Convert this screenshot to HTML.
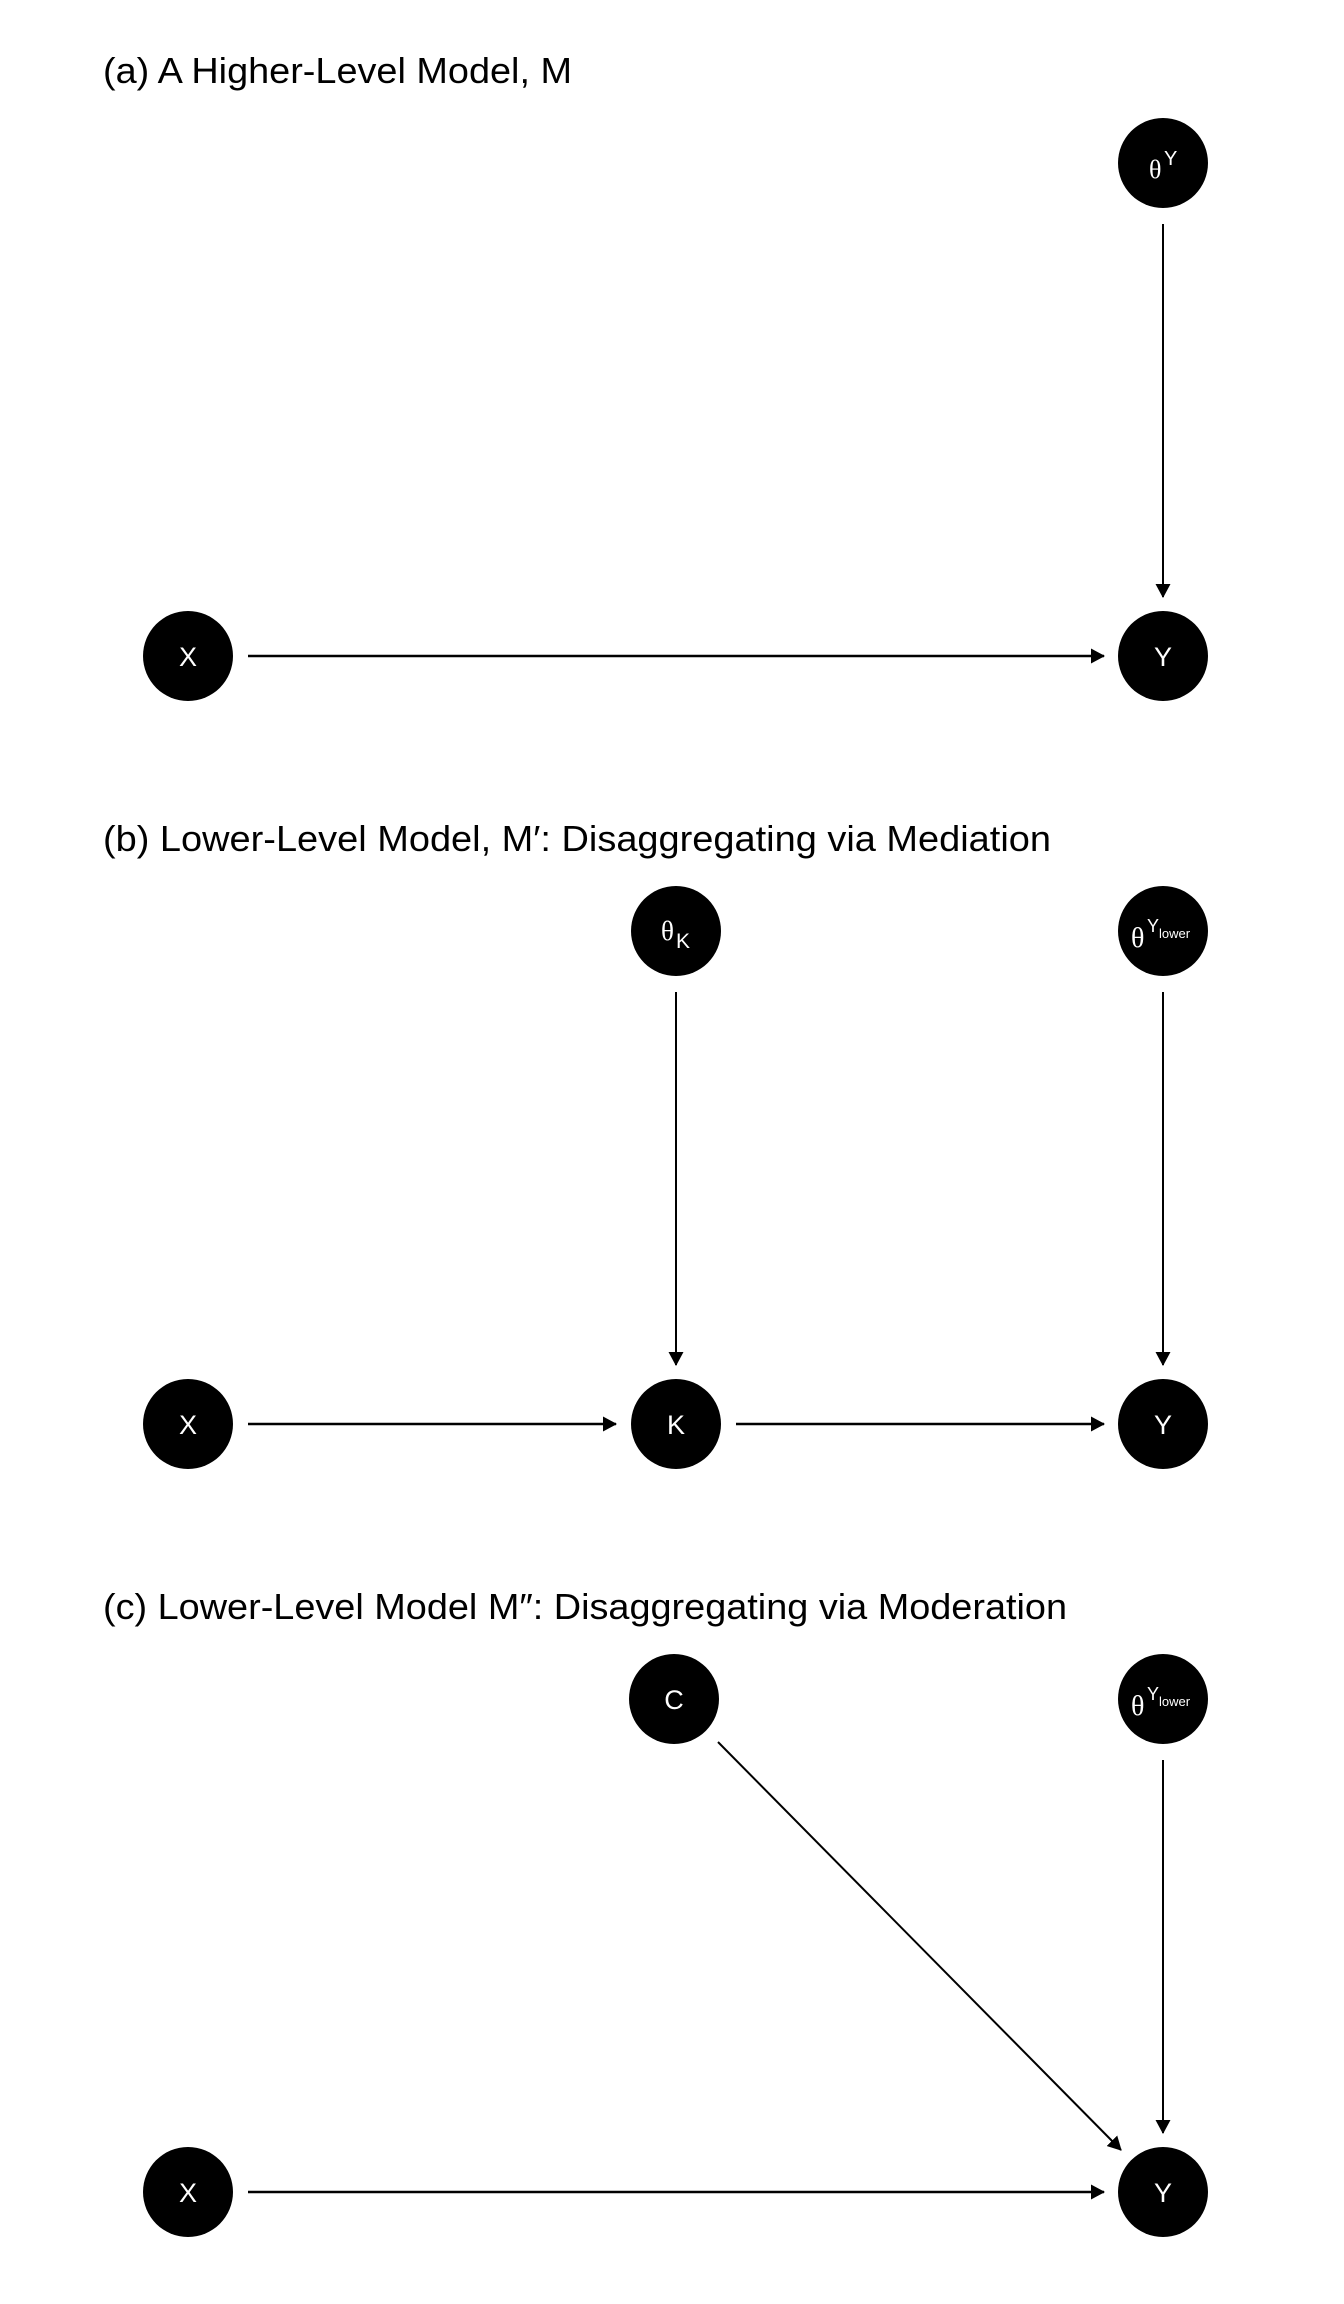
<!DOCTYPE html>
<html><head><meta charset="utf-8"><style>
html,body{margin:0;padding:0;background:#fff;}
svg{display:block;}
.t{font-family:"Liberation Sans",sans-serif;font-size:36px;fill:#000;}
.n{font-family:"Liberation Sans",sans-serif;fill:#fff;}
.th{font-family:"Liberation Serif","DejaVu Serif",serif;fill:#fff;}
</style></head><body>
<svg width="1344" height="2304" viewBox="0 0 1344 2304" xmlns="http://www.w3.org/2000/svg">
<defs>
<marker id="ah" markerWidth="14" markerHeight="15" refX="13" refY="7.5" orient="auto" markerUnits="userSpaceOnUse">
<path d="M0,0 L14,7.5 L0,15 Z" fill="#000"/>
</marker>
</defs>

<!-- Panel A -->
<g>
<text class="t" x="103" y="83" textLength="469" lengthAdjust="spacingAndGlyphs">(a) A Higher-Level Model, M</text>
<line x1="1163" y1="224" x2="1163" y2="597" stroke="#000" stroke-width="2" marker-end="url(#ah)"/>
<line x1="248" y1="656" x2="1104" y2="656" stroke="#000" stroke-width="2.6" marker-end="url(#ah)"/>
<circle cx="1163" cy="163" r="45" fill="#000"/>
<text class="th" x="1149" y="178" font-size="26">θ</text>
<text class="n" x="1164" y="165" font-size="20">Y</text>
<circle cx="188" cy="656" r="45" fill="#000"/>
<text class="n" x="188" y="666" font-size="27" text-anchor="middle">X</text>
<circle cx="1163" cy="656" r="45" fill="#000"/>
<text class="n" x="1163" y="666" font-size="27" text-anchor="middle">Y</text>
</g>

<!-- Panel B -->
<g transform="translate(0,768)">
<text class="t" x="103" y="83" textLength="948" lengthAdjust="spacingAndGlyphs">(b) Lower-Level Model, M′: Disaggregating via Mediation</text>
<line x1="676" y1="224" x2="676" y2="597" stroke="#000" stroke-width="2" marker-end="url(#ah)"/>
<line x1="1163" y1="224" x2="1163" y2="597" stroke="#000" stroke-width="2" marker-end="url(#ah)"/>
<line x1="248" y1="656" x2="616" y2="656" stroke="#000" stroke-width="2.6" marker-end="url(#ah)"/>
<line x1="736" y1="656" x2="1104" y2="656" stroke="#000" stroke-width="2.6" marker-end="url(#ah)"/>
<circle cx="676" cy="163" r="45" fill="#000"/>
<text class="th" x="661" y="172" font-size="27">θ</text>
<text class="n" x="676" y="180" font-size="21">K</text>
<circle cx="1163" cy="163" r="45" fill="#000"/>
<text class="th" x="1131" y="179" font-size="28">θ</text>
<text class="n" x="1147" y="164" font-size="18">Y</text>
<text class="n" x="1159" y="170" font-size="13">lower</text>
<circle cx="188" cy="656" r="45" fill="#000"/>
<text class="n" x="188" y="666" font-size="27" text-anchor="middle">X</text>
<circle cx="676" cy="656" r="45" fill="#000"/>
<text class="n" x="676" y="666" font-size="27" text-anchor="middle">K</text>
<circle cx="1163" cy="656" r="45" fill="#000"/>
<text class="n" x="1163" y="666" font-size="27" text-anchor="middle">Y</text>
</g>

<!-- Panel C -->
<g transform="translate(0,1536)">
<text class="t" x="103" y="83" textLength="964" lengthAdjust="spacingAndGlyphs">(c) Lower-Level Model M″: Disaggregating via Moderation</text>
<line x1="718" y1="206" x2="1121" y2="614" stroke="#000" stroke-width="2" marker-end="url(#ah)"/>
<line x1="1163" y1="224" x2="1163" y2="597" stroke="#000" stroke-width="2" marker-end="url(#ah)"/>
<line x1="248" y1="656" x2="1104" y2="656" stroke="#000" stroke-width="2.6" marker-end="url(#ah)"/>
<circle cx="674" cy="163" r="45" fill="#000"/>
<text class="n" x="674" y="173" font-size="27" text-anchor="middle">C</text>
<circle cx="1163" cy="163" r="45" fill="#000"/>
<text class="th" x="1131" y="179" font-size="28">θ</text>
<text class="n" x="1147" y="164" font-size="18">Y</text>
<text class="n" x="1159" y="170" font-size="13">lower</text>
<circle cx="188" cy="656" r="45" fill="#000"/>
<text class="n" x="188" y="666" font-size="27" text-anchor="middle">X</text>
<circle cx="1163" cy="656" r="45" fill="#000"/>
<text class="n" x="1163" y="666" font-size="27" text-anchor="middle">Y</text>
</g>
</svg>
</body></html>
